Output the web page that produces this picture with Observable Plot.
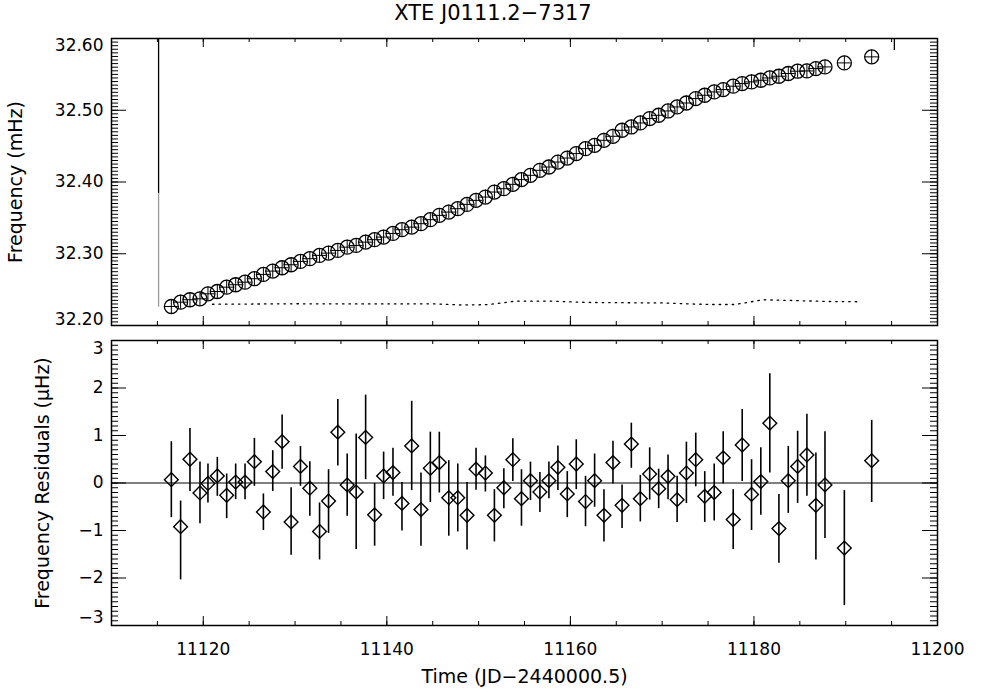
<!DOCTYPE html>
<html><head><meta charset="utf-8">
<script src="https://cdn.jsdelivr.net/npm/d3@7"></script>
<script src="https://cdn.jsdelivr.net/npm/@observablehq/plot@0.6"></script>
<style>
body{margin:0;background:#fff;}
#wrap{position:relative;width:981px;height:691px;font-family:"DejaVu Sans",sans-serif;}
#top{position:absolute;left:0;top:0;}
#bot{position:absolute;left:0;top:330px;}
#title{position:absolute;left:343px;width:300px;top:1px;text-align:center;font-size:21px;color:#000;}
</style></head><body>
<div id="wrap"><div id="top"></div><div id="bot"></div><div id="title">XTE J0111.2−7317</div></div>
<script>
// ---- data ----
const times = [11116.52, 11117.53, 11118.55, 11119.64, 11120.51, 11121.53, 11122.55, 11123.53, 11124.55, 11125.57,
 11126.55, 11127.57, 11128.59, 11129.57, 11130.59, 11131.61, 11132.67, 11133.65, 11134.66, 11135.68,
 11136.66, 11137.69, 11138.67, 11139.65, 11140.67, 11141.65, 11142.71, 11143.72, 11144.74, 11145.72,
 11146.75, 11147.73, 11148.74, 11149.72, 11150.74, 11151.72, 11152.75, 11153.73, 11154.67, 11155.65,
 11156.68, 11157.66, 11158.64, 11159.66, 11160.64, 11161.65, 11162.64, 11163.66, 11164.64, 11165.63,
 11166.64, 11167.62, 11168.64, 11169.62, 11170.64, 11171.63, 11172.64, 11173.66, 11174.64, 11175.67,
 11176.65, 11177.74, 11178.72, 11179.74, 11180.75, 11181.73, 11182.72, 11183.74, 11184.76, 11185.77,
 11186.75, 11187.74, 11189.85, 11192.83];
const freqs = [32.2265, 32.2325, 32.2359, 32.2372, 32.2442, 32.2474, 32.2534, 32.2568, 32.2604, 32.2652,
 32.2712, 32.2758, 32.2805, 32.2847, 32.2893, 32.2931, 32.2977, 32.3009, 32.3046, 32.3092,
 32.3116, 32.3162, 32.3196, 32.3232, 32.3283, 32.3335, 32.3371, 32.3419, 32.3475, 32.3535,
 32.3581, 32.3628, 32.3688, 32.3744, 32.3790, 32.3860, 32.3907, 32.3967, 32.4033, 32.4093,
 32.4163, 32.4209, 32.4278, 32.4334, 32.4396, 32.4465, 32.4511, 32.4581, 32.4637, 32.4721,
 32.4767, 32.4823, 32.4884, 32.4930, 32.4990, 32.5046, 32.5101, 32.5163, 32.5209, 32.5255,
 32.5288, 32.5335, 32.5372, 32.5395, 32.5418, 32.5450, 32.5474, 32.5512, 32.5544, 32.5548,
 32.5581, 32.5604, 32.5660, 32.5744];
const timeErr = 0.75;     // days (half width of cross)
const freqErr = 0.0097;   // mHz (half height of cross)
const residuals = [0.07, -0.92, 0.50, -0.21, -0.01, 0.15, -0.26, 0.02, 0.02, 0.45,
 -0.61, 0.24, 0.87, -0.82, 0.35, -0.11, -1.02, -0.38, 1.07, -0.04,
 -0.19, 0.96, -0.67, 0.15, 0.22, -0.43, 0.78, -0.56, 0.31, 0.43,
 -0.31, -0.31, -0.68, 0.29, 0.21, -0.68, -0.10, 0.49, -0.33, 0.05,
 -0.19, 0.05, 0.33, -0.23, 0.40, -0.39, 0.05, -0.68, 0.43, -0.47,
 0.82, -0.33, 0.19, -0.12, 0.14, -0.35, 0.21, 0.49, -0.28, -0.20,
 0.53, -0.77, 0.80, -0.24, 0.03, 1.26, -0.96, 0.05, 0.35, 0.59,
 -0.47, -0.04, -1.37, 0.47];
const resHigh = [0.87, -0.38, 1.15, 0.44, 0.40, 0.54, 0.19, 0.40, 0.40, 0.94,
 -0.23, 0.68, 1.43, -0.10, 0.77, 0.45, -0.42, 0.28, 1.76, 0.61,
 1.03, 1.85, -0.01, 0.65, 0.73, 0.01, 1.72, 0.21, 1.07, 1.07,
 0.47, 0.40, 0.01, 0.73, 0.57, -0.14, 0.30, 0.93, 0.28, 0.44,
 0.22, 0.44, 0.78, 0.24, 0.91, 0.14, 0.61, -0.14, 0.88, -0.04,
 1.26, 0.16, 0.74, 0.29, 0.59, 0.14, 0.86, 1.05, 0.24, 0.40,
 1.08, -0.14, 1.55, 0.49, 0.74, 2.30, -0.24, 0.77, 1.09, 1.45,
 0.63, 1.08, -0.16, 1.32];
const resLow = [-0.73, -2.04, -0.18, -0.86, -0.42, -0.28, -0.75, -0.35, -0.35, -0.07,
 -1.00, -0.18, 0.29, -1.52, -0.07, -0.70, -1.62, -1.06, 0.36, -0.70,
 -1.40, 0.07, -1.33, -0.35, -0.28, -1.01, -0.16, -1.33, -0.41, -0.21,
 -1.12, -1.03, -1.41, -0.15, -0.19, -1.24, -0.54, 0.03, -0.91, -0.37,
 -0.62, -0.33, -0.16, -0.73, -0.14, -0.92, -0.51, -1.24, -0.02, -0.96,
 0.31, -0.82, -0.36, -0.54, -0.35, -0.83, -0.43, -0.08, -0.83, -0.80,
 -0.02, -1.40, 0.03, -1.00, -0.68, 0.21, -1.69, -0.64, -0.43, -0.28,
 -1.62, -1.17, -2.58, -0.41];
// dotted curve in the upper panel
const dottedTimes = [11121.0, 11130, 11140, 11145, 11148, 11151, 11154, 11158, 11162, 11170, 11175, 11178, 11181, 11184, 11188, 11191.4];
const dottedFreqs = [32.2296, 32.2303, 32.2300, 32.2303, 32.2286, 32.2290, 32.2339, 32.2339, 32.2321, 32.2314, 32.2293, 32.2293, 32.2359, 32.2349, 32.2335, 32.2331];
// vertical marker lines in the upper panel
const markerTimes = [11115.13, 11115.13, 11195.3];
const markerFrom  = [32.3837, 32.2255, 32.5833];
const markerTo    = [32.6,    32.3837, 32.6];
const markerColor = ["black", "#999", "black"];
// axes
const xMajor = [11120, 11140, 11160, 11180, 11200];
const xMinor = d3.range(11110, 11200.01, 5);
const yTopMajor = [32.20, 32.30, 32.40, 32.50, 32.60];
const yTopMinor = d3.range(0, 81).map(i => 32.2 + i * 0.005);
const yBotMajor = [-3, -2, -1, 0, 1, 2, 3];
const yBotMinor = d3.range(0, 61).map(i => -3 + i * 0.1);
const xLabel = "Time (JD−2440000.5)";
const yTopLabel = "Frequency (mHz)";
const yBotLabel = "Frequency Residuals (μHz)";

// ---- tables ----
const freqTable = times.map((t, i) => ({t, f: freqs[i]}));
const resTable = times.map((t, i) => ({t, r: residuals[i], lo: resLow[i], hi: resHigh[i]}));
const dottedTable = dottedTimes.map((t, i) => ({t, f: dottedFreqs[i]}));
const markerTable = markerTimes.map((t, i) => ({t, y1: markerFrom[i], y2: markerTo[i], c: markerColor[i]}));

const style = {fontFamily: "DejaVu Sans, sans-serif", fontSize: "17px", background: "transparent", color: "black", overflow: "visible"};
const W = 981, ML = 111, MR = 44;
const frameW = W - ML - MR;

// IDL-style inward ticks on all four sides
function tickMarks(yMajor, yMinor, frameH) {
  const id = d => d;
  return [
    Plot.tickX(xMajor, {x: id, insetTop: frameH - 9, stroke: "black"}),
    Plot.tickX(xMinor, {x: id, insetTop: frameH - 4, stroke: "black"}),
    Plot.tickX(xMajor, {x: id, insetBottom: frameH - 9, stroke: "black"}),
    Plot.tickX(xMinor, {x: id, insetBottom: frameH - 4, stroke: "black"}),
    Plot.tickY(yMajor, {y: id, insetRight: frameW - 15, stroke: "black"}),
    Plot.tickY(yMinor, {y: id, insetRight: frameW - 7, stroke: "black"}),
    Plot.tickY(yMajor, {y: id, insetLeft: frameW - 15, stroke: "black"}),
    Plot.tickY(yMinor, {y: id, insetLeft: frameW - 7, stroke: "black"})
  ];
}

const H1 = 335, MT1 = 38, MB1 = 10;
const topPlot = Plot.plot({
  width: W, height: H1,
  marginTop: MT1, marginBottom: MB1, marginLeft: ML, marginRight: MR,
  x: {domain: [11110, 11200], axis: null},
  y: {domain: [32.2, 32.6]},
  style,
  marks: [
    ...tickMarks(yTopMajor, yTopMinor, H1 - MT1 - MB1),
    Plot.axisY({anchor: "left", ticks: yTopMajor.slice(1, -1), tickSize: 0, tickPadding: 8, tickFormat: d3.format(".2f"), label: null}),
    Plot.axisY({anchor: "left", ticks: [], tickSize: 0, label: yTopLabel, labelAnchor: "center", labelOffset: 103, labelArrow: false, fontSize: 19}),
    Plot.axisY({anchor: "left", ticks: yTopMajor.slice(-1), tickSize: 0, tickPadding: 8, tickFormat: d3.format(".2f"), dy: 7, label: null}),
    Plot.axisY({anchor: "left", ticks: yTopMajor.slice(0, 1), tickSize: 0, tickPadding: 8, tickFormat: d3.format(".2f"), dy: -6, label: null}),
    Plot.line(dottedTable, {x: "t", y: "f", stroke: "black", strokeWidth: 1.3, strokeDasharray: "1.5,5"}),
    Plot.ruleX(markerTable, {x: "t", y1: "y1", y2: "y2", stroke: "c", strokeWidth: 1.3}),
    Plot.ruleX(freqTable, {x: "t", y1: d => d.f - freqErr, y2: d => d.f + freqErr, stroke: "black", strokeWidth: 1}),
    Plot.ruleY(freqTable, {y: "f", x1: d => d.t - timeErr, x2: d => d.t + timeErr, stroke: "black", strokeWidth: 1}),
    Plot.dot(freqTable, {x: "t", y: "f", r: 7, stroke: "black", strokeWidth: 1.3, fill: "none"}),
    Plot.frame({stroke: "black", strokeWidth: 1.5})
  ]
});
document.getElementById("top").appendChild(topPlot);

const H2 = 361, MT2 = 10, MB2 = 66;
const botPlot = Plot.plot({
  width: W, height: H2,
  marginTop: MT2, marginBottom: MB2, marginLeft: ML, marginRight: MR,
  x: {domain: [11110, 11200]},
  y: {domain: [-3, 3]},
  style,
  marks: [
    ...tickMarks(yBotMajor, yBotMinor, H2 - MT2 - MB2),
    Plot.axisY({anchor: "left", ticks: yBotMajor.slice(1, -1), tickSize: 0, tickPadding: 8, tickFormat: d3.format("d"), label: null}),
    Plot.axisY({anchor: "left", ticks: [], tickSize: 0, label: yBotLabel, labelAnchor: "center", labelOffset: 76, labelArrow: false, fontSize: 19}),
    Plot.axisY({anchor: "left", ticks: yBotMajor.slice(-1), tickSize: 0, tickPadding: 8, tickFormat: d3.format("d"), dy: 8, label: null}),
    Plot.axisY({anchor: "left", ticks: yBotMajor.slice(0, 1), tickSize: 0, tickPadding: 8, tickFormat: d3.format("d"), dy: -8, label: null}),
    Plot.axisX({anchor: "bottom", ticks: xMajor, tickSize: 0, tickPadding: 17, tickFormat: d3.format("d"), label: null}),
    Plot.axisX({anchor: "bottom", ticks: [], tickSize: 0, label: xLabel, labelAnchor: "center", labelOffset: 57, labelArrow: false, fontSize: 19}),
    Plot.ruleY([0], {stroke: "black", strokeWidth: 1.2}),
    Plot.ruleX(resTable, {x: "t", y1: "lo", y2: "hi", stroke: "black", strokeWidth: 1.6}),
    Plot.dot(resTable, {x: "t", y: "r", symbol: "square", rotate: 45, r: 5.5, stroke: "black", strokeWidth: 1.4, fill: "none"}),
    Plot.frame({stroke: "black", strokeWidth: 1.5})
  ]
});
document.getElementById("bot").appendChild(botPlot);
</script>
</body></html>
